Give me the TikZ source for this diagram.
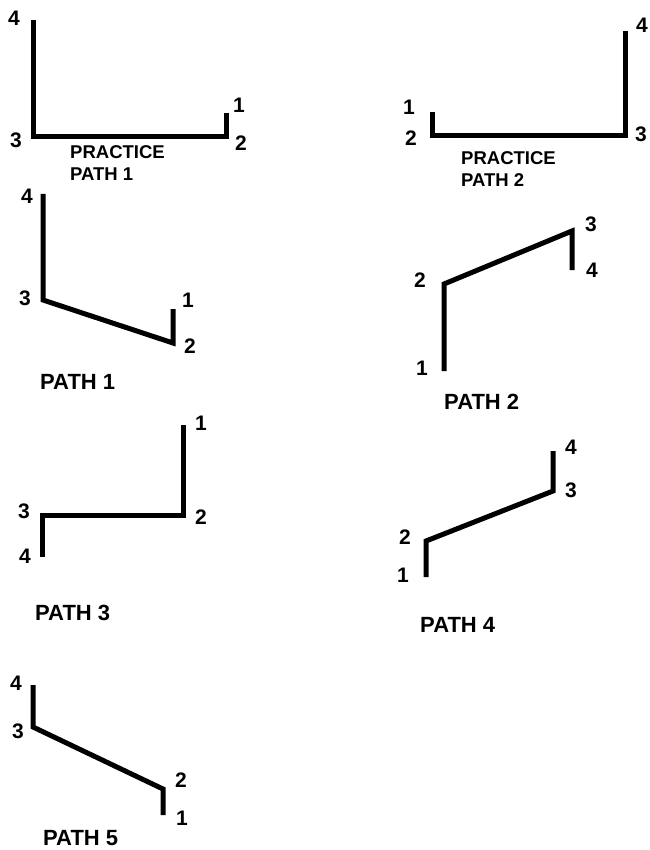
\documentclass[tikz,border=0pt]{standalone}
\usepackage{fontspec}
\setmainfont{Liberation Sans}
\usepackage{tikz}

\begin{document}
\begin{tikzpicture}[
  x=1pt, y=-1pt,
  num/.style={font=\fontsize{21}{21}\selectfont\bfseries, inner sep=0pt},
  ttl/.style={font=\fontsize{22}{22}\selectfont\bfseries, inner sep=0pt, anchor=west},
  pttl/.style={font=\fontsize{18.5}{22.5}\selectfont\bfseries, inner sep=0pt, anchor=north west, align=left},
  trail/.style={line width=5pt, line join=miter}
]
\useasboundingbox (0,0) rectangle (649,850);

% practice path 1
\coordinate (pa1) at (226,113);
\coordinate (pa2) at (226,137);
\coordinate (pa3) at (33,137);
\coordinate (pa4) at (33,20);
\draw[trail] (pa1) -- (pa2) -- (pa3) -- (pa4);
\node[num] (pa1l) at (239,105) {1};
\node[num] (pa2l) at (241,143) {2};
\node[num] (pa3l) at (16,140) {3};
\node[num] (pa4l) at (14,18) {4};
\node[pttl] (pati) at (70,145) {PRACTICE\\PATH 1};

% practice path 2
\coordinate (pb1) at (432,112);
\coordinate (pb2) at (432,136);
\coordinate (pb3) at (625,136);
\coordinate (pb4) at (625,31);
\draw[trail] (pb1) -- (pb2) -- (pb3) -- (pb4);
\node[num] (pb1l) at (409,107) {1};
\node[num] (pb2l) at (411,138) {2};
\node[num] (pb3l) at (641,134) {3};
\node[num] (pb4l) at (642,25) {4};
\node[pttl] (pbti) at (461,151) {PRACTICE\\PATH 2};

% path 1
\coordinate (a1) at (173,309);
\coordinate (a2) at (173,343);
\coordinate (a3) at (43,300);
\coordinate (a4) at (43,194);
\draw[trail] (a1) -- (a2) -- (a3) -- (a4);
\node[num] (a1l) at (188,300) {1};
\node[num] (a2l) at (190,346) {2};
\node[num] (a3l) at (25,298) {3};
\node[num] (a4l) at (27,196) {4};
\node[ttl] (ati) at (40,382) {PATH 1};

% path 2
\coordinate (b1) at (444,371);
\coordinate (b2) at (444,284);
\coordinate (b3) at (572,231);
\coordinate (b4) at (572,270);
\draw[trail] (b1) -- (b2) -- (b3) -- (b4);
\node[num] (b1l) at (422,368) {1};
\node[num] (b2l) at (420,280) {2};
\node[num] (b3l) at (591,224) {3};
\node[num] (b4l) at (592,270) {4};
\node[ttl] (bti) at (444,402) {PATH 2};

% path 3
\coordinate (c1) at (183,425);
\coordinate (c2) at (183,515);
\coordinate (c3) at (42,515);
\coordinate (c4) at (42,557);
\draw[trail] (c1) -- (c2) -- (c3) -- (c4);
\node[num] (c1l) at (201,423) {1};
\node[num] (c2l) at (201,517) {2};
\node[num] (c3l) at (24,511) {3};
\node[num] (c4l) at (25,556) {4};
\node[ttl] (cti) at (35,613) {PATH 3};

% path 4
\coordinate (d1) at (426,577);
\coordinate (d2) at (426,541);
\coordinate (d3) at (553,491);
\coordinate (d4) at (553,451);
\draw[trail] (d1) -- (d2) -- (d3) -- (d4);
\node[num] (d1l) at (403,575) {1};
\node[num] (d2l) at (405,537) {2};
\node[num] (d3l) at (571,490) {3};
\node[num] (d4l) at (571,447) {4};
\node[ttl] (dti) at (420,625) {PATH 4};

% path 5
\coordinate (e1) at (163,815);
\coordinate (e2) at (163,789);
\coordinate (e3) at (33,727);
\coordinate (e4) at (33,685);
\draw[trail] (e1) -- (e2) -- (e3) -- (e4);
\node[num] (e1l) at (182,818) {1};
\node[num] (e2l) at (181,780) {2};
\node[num] (e3l) at (18,731) {3};
\node[num] (e4l) at (16,683) {4};
\node[ttl] (eti) at (43,838) {PATH 5};
\end{tikzpicture}
\end{document}
